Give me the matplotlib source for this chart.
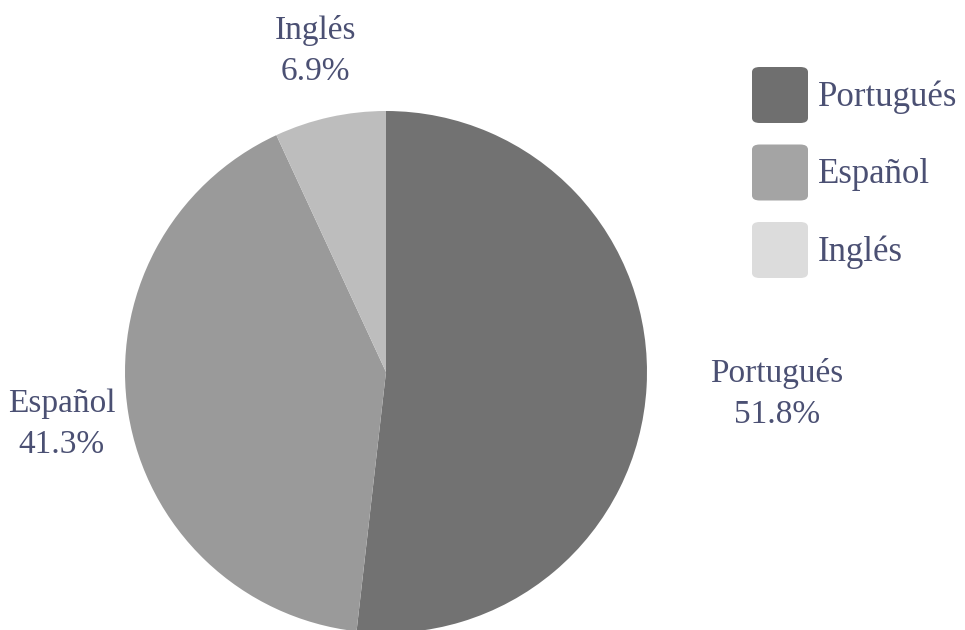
import numpy as np
import matplotlib.pyplot as plt
from matplotlib.patches import FancyBboxPatch

idiomas = ['Portugués', 'Español', 'Inglés']
porcentajes = [51.8, 41.3, 6.9]
colores_pie = ['#727272', '#9a9a9a', '#bdbdbd']
colores_leyenda = ['#6f6f6f', '#a4a4a4', '#dcdcdc']
dist_etiqueta = [1.50, 1.26, 1.26]

TXT = '#4b5073'
plt.rcParams['font.family'] = ['Liberation Serif', 'DejaVu Serif']

W, H = 965, 630
cx, cy, r = 386, 372, 261   # pie centre / radius in pixels

fig = plt.figure(figsize=(W / 100, H / 100), dpi=100)
ax = fig.add_axes([0, 0, 1, 1])

wedges, _ = ax.pie(porcentajes, colors=colores_pie, startangle=90,
                   counterclock=False, radius=1,
                   wedgeprops=dict(linewidth=0))

# pie() resets limits, so set them afterwards
ax.set_aspect('auto')
ax.set_xlim(-cx / r, (W - cx) / r)
ax.set_ylim(-(H - cy) / r, cy / r)
ax.axis('off')

for w, nombre, p, d in zip(wedges, idiomas, porcentajes, dist_etiqueta):
    ang = np.deg2rad((w.theta1 + w.theta2) / 2)
    ax.text(d * np.cos(ang), d * np.sin(ang), f'{nombre}\n{p}%',
            ha='center', va='center', fontsize=24, color=TXT,
            linespacing=1.45)

# legend with rounded squares
for i, (nombre, c) in enumerate(zip(idiomas, colores_leyenda)):
    top = 67 + i * 77.5
    x0, y0 = 752 / W, 1 - (top + 56) / H
    box = FancyBboxPatch((x0, y0), 56 / W, 56 / H,
                         boxstyle='round,pad=0,rounding_size=0.008',
                         transform=fig.transFigure, facecolor=c,
                         edgecolor='none')
    fig.patches.append(box)
    fig.text(818 / W, 1 - (top + 30) / H, nombre, ha='left', va='center',
             fontsize=25, color=TXT)

fig.savefig('out.png', dpi=100)
